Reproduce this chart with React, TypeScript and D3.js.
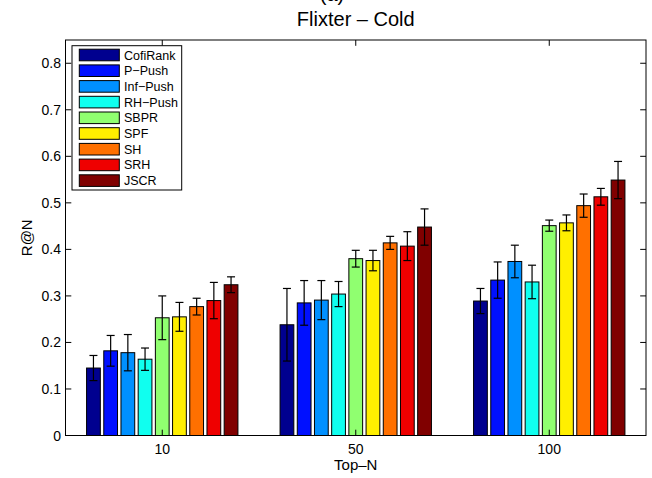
import React from "react";
import * as d3 from "d3";

const groups = ["10", "50", "100"];
const methods = ["CofiRank", "P\u2212Push", "Inf\u2212Push", "RH\u2212Push", "SBPR", "SPF", "SH", "SRH", "JSCR"];
const colors = ["#00008F", "#0010FF", "#0090FF", "#10FFEF", "#90FF70", "#FFEF00", "#FF7000", "#EF0000", "#800000"];
// values[method][group]
const values = [
  [0.145, 0.238, 0.289],
  [0.182, 0.285, 0.334],
  [0.178, 0.291, 0.374],
  [0.164, 0.304, 0.330],
  [0.253, 0.380, 0.451],
  [0.255, 0.376, 0.457],
  [0.277, 0.414, 0.494],
  [0.290, 0.407, 0.513],
  [0.324, 0.448, 0.549],
];
const errors = [
  [0.027, 0.078, 0.027],
  [0.033, 0.048, 0.039],
  [0.039, 0.042, 0.035],
  [0.024, 0.027, 0.036],
  [0.047, 0.018, 0.012],
  [0.031, 0.022, 0.017],
  [0.018, 0.014, 0.025],
  [0.039, 0.031, 0.018],
  [0.017, 0.039, 0.040],
];
const yTicks = [0, 0.1, 0.2, 0.3, 0.4, 0.5, 0.6, 0.7, 0.8];

const W = 652, H = 478;
const L = 65.5, R = 646, T = 40, B = 435.5;
const FONT = "'Liberation Sans', Arial, Helvetica, sans-serif";

export default function App() {
  const x = d3.scaleLinear().domain([0.5, groups.length + 0.5]).range([L, R]);
  const y = d3.scaleLinear().domain([0, 0.85]).range([B, T]);
  const n = methods.length;
  const gw = 0.8;
  const slot = gw / n;
  const bw = slot * 0.8;
  const tl = 5.8;
  const cap = 4;

  return (
    <svg width={W} height={H} style={{ position: "absolute", left: 0, top: 0 }} fontFamily={FONT}>
      <rect x={0} y={0} width={W} height={H} fill="#fff" />
      <text x={332} y={1} fontSize={20} textAnchor="middle">(a)</text>
      <text x={(L + R) / 2} y={26} fontSize={20} textAnchor="middle">Flixter – Cold</text>
      <rect x={L} y={T} width={R - L} height={B - T} fill="#fff" />
      {/* bars */}
      {methods.map((m, i) =>
        groups.map((g, j) => {
          const c = j + 1 - gw / 2 + (2 * i + 1) * slot / 2;
          const x0 = x(c - bw / 2), x1 = x(c + bw / 2);
          const v = values[i][j];
          const e = errors[i][j];
          const xc = x(c);
          return (
            <g key={m + g}>
              <rect x={x0} y={y(v)} width={x1 - x0} height={y(0) - y(v)} fill={colors[i]} stroke="#000" strokeWidth={1} />
              <line x1={xc} x2={xc} y1={y(v - e)} y2={y(v + e)} stroke="#000" strokeWidth={1.2} />
              <line x1={xc - cap} x2={xc + cap} y1={y(v - e)} y2={y(v - e)} stroke="#000" strokeWidth={1.2} />
              <line x1={xc - cap} x2={xc + cap} y1={y(v + e)} y2={y(v + e)} stroke="#000" strokeWidth={1.2} />
            </g>
          );
        })
      )}
      {/* axes box */}
      <rect x={L} y={T} width={R - L} height={B - T} fill="none" stroke="#000" strokeWidth={1} />
      {yTicks.map((t) => (
        <g key={t}>
          <line x1={L} x2={L + tl} y1={y(t)} y2={y(t)} stroke="#000" />
          <line x1={R} x2={R - tl} y1={y(t)} y2={y(t)} stroke="#000" />
          <text x={61} y={y(t)} dy="0.36em" fontSize={14} textAnchor="end">{String(t)}</text>
        </g>
      ))}
      {groups.map((g, j) => (
        <g key={g}>
          <line x1={x(j + 1)} x2={x(j + 1)} y1={B} y2={B - tl} stroke="#000" />
          <line x1={x(j + 1)} x2={x(j + 1)} y1={T} y2={T + tl} stroke="#000" />
          <text x={x(j + 1)} y={454} fontSize={14} textAnchor="middle">{g}</text>
        </g>
      ))}
      <text x={(L + R) / 2} y={470} fontSize={15} textAnchor="middle">Top–N</text>
      <text transform={`translate(32, ${(T + B) / 2}) rotate(-90)`} fontSize={15} textAnchor="middle">R@N</text>
      {/* legend */}
      <rect x={72} y={45.7} width={109.7} height={144.3} fill="#fff" stroke="#000" strokeWidth={1} />
      {methods.map((m, i) => {
        const cy = 55 + i * 15.7;
        return (
          <g key={m}>
            <rect x={79.3} y={cy - 5.8} width={40} height={11.6} fill={colors[i]} stroke="#000" strokeWidth={1} />
            <text x={124} y={cy} dy="0.36em" fontSize={12.5}>{m}</text>
          </g>
        );
      })}
    </svg>
  );
}
